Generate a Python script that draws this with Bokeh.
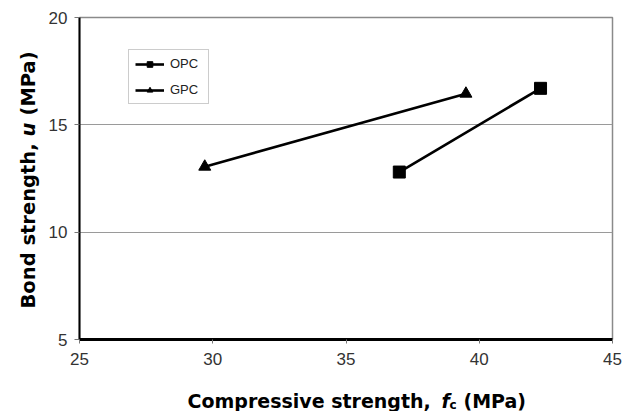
import numpy as np
from bokeh.plotting import figure
from bokeh.models import (Range1d, FixedTicker, Legend, LegendItem,
                          ColumnDataSource)
from bokeh.core.properties import value
from bokeh.embed import file_html
from bokeh.resources import INLINE

# ---- data ----
series_names = ["OPC", "GPC"]
opc_fc = [37.0, 42.3]
opc_u = [12.8, 16.7]
gpc_fc = [29.7, 39.5]
gpc_u = [13.05, 16.45]
x_ticks = [25, 30, 35, 40, 45]
y_ticks = [5, 10, 15, 20]
x_title = ["Compressive strength, ", "f", "c", "(MPa)"]
y_title = ["Bond strength, ", "u", "(MPa)"]

# ---- layout ----
W, H = 625, 411
FL, FR, FT, FB = 79, 612, 17, 339
X0, X1, Y0, Y1 = 25, 45, 5, 20


def sx2d(px):
    return X0 + (px - FL) * (X1 - X0) / (FR - FL)


def sy2d(py):
    return Y1 - (py - FT) * (Y1 - Y0) / (FB - FT)


p = figure(width=W, height=H, output_backend="svg", toolbar_location=None,
           x_range=Range1d(X0, X1), y_range=Range1d(Y0, Y1),
           min_border_left=FL, min_border_right=W - FR,
           min_border_top=FT, min_border_bottom=H - FB)
p.background_fill_color = "white"
p.border_fill_color = "white"
p.outline_line_color = "#8a8a8a"
p.outline_line_width = 1.5

# grid
p.xgrid.visible = False
p.ygrid.ticker = FixedTicker(ticks=y_ticks)
p.ygrid.grid_line_color = "#9a9a9a"
p.ygrid.grid_line_width = 1

# axes
for ax, ticks in ((p.xaxis[0], x_ticks), (p.yaxis[0], y_ticks)):
    ax.ticker = FixedTicker(ticks=ticks)
    ax.axis_line_color = "black"
    ax.major_tick_in = 0
    ax.minor_tick_in = 0
    ax.minor_tick_out = 0
    ax.major_tick_line_color = "#777777"
    ax.major_label_text_font = "Liberation Sans"
    ax.major_label_text_font_size = "17px"
    ax.major_label_text_color = "#333333"
    ax.axis_label = None
p.xaxis.axis_line_width = 3
p.xaxis.major_tick_out = 4
p.xaxis.major_label_standoff = 9
p.yaxis.axis_line_width = 2
p.yaxis.major_tick_out = 5
p.yaxis.major_label_standoff = 7

# series
opc_src = ColumnDataSource(data=dict(x=opc_fc, y=opc_u))
gpc_src = ColumnDataSource(data=dict(x=gpc_fc, y=gpc_u))
opc_line = p.line("x", "y", source=opc_src, line_color="black", line_width=2.6)
gpc_line = p.line("x", "y", source=gpc_src, line_color="black", line_width=2.6)
p.scatter("x", "y", source=opc_src, marker="square", size=12,
          fill_color="black", line_color="black")
p.scatter("x", "y", source=gpc_src, marker="triangle", size=12,
          fill_color="black", line_color="black")

# legend proxies (smaller markers in the legend, hidden in the plot)
opc_leg = p.scatter("x", "y", source=opc_src, marker="square", size=8,
                    fill_color="black", line_color="black", visible=False)
gpc_leg = p.scatter("x", "y", source=gpc_src, marker="triangle", size=8,
                    fill_color="black", line_color="black", visible=False)

legend = Legend(items=[LegendItem(label=series_names[0], renderers=[opc_line, opc_leg]),
                       LegendItem(label=series_names[1], renderers=[gpc_line, gpc_leg])],
                location=(49, 235), orientation="vertical",
                label_text_font="Liberation Sans", label_text_font_size="13px",
                label_text_color="#222222",
                glyph_width=29, glyph_height=14, label_height=14, label_width=32,
                label_standoff=6, padding=6, spacing=11, margin=0,
                border_line_color="#9a9a9a", border_line_width=1,
                background_fill_color="white", background_fill_alpha=1,
                click_policy="none")
p.add_layout(legend)

# axis titles as text pieces (overlay level so they are not clipped)
FONT = value("DejaVu Sans")


def piece(px, py, txt, style, size, angle=0.0):
    p.text(x=[sx2d(px)], y=[sy2d(py)], text=[txt], text_font=FONT,
           text_font_style=style, text_font_size=size, angle=angle,
           text_align="left", text_baseline="alphabetic", text_color="black",
           level="overlay")


piece(187, 400, x_title[0], "bold", "19px")
piece(441, 400, x_title[1], "bold italic", "19px")
piece(449, 404, x_title[2], "bold", "12px")
piece(463, 400, x_title[3], "bold", "19px")

piece(28, 308, y_title[0], "bold", "19.5px", np.pi / 2)
piece(28, 136, y_title[1], "bold italic", "19.5px", np.pi / 2)
piece(28, 115, y_title[2], "bold", "19.5px", np.pi / 2)

open("out.html", "w").write(file_html(p, INLINE))
